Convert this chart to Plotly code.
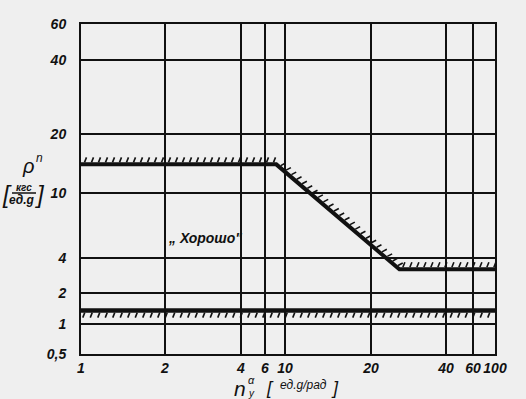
import numpy as np
import plotly.graph_objects as go

# ---- data ----
X_TICKS = [1, 2, 4, 6, 10, 20, 40, 60, 100]
X_TICK_TEXT = ["1", "2", "4", "6", "10", "20", "40", "60", "100"]
Y_TICKS = [0.5, 1, 2, 4, 10, 20, 40, 60]
Y_TICK_TEXT = ["0,5", "1", "2", "4", "10", "20", "40", "60"]

N_UPPER = [1, 8, 26, 100]
P_UPPER = [14, 14, 3.2, 3.2]
N_LOWER = [1, 100]
P_LOWER = [1.35, 1.35]

# ---- hand-drawn nomogram grid scale (grid line positions on the sheet) ----
X_GRID_POS = [81, 165, 241, 265, 285, 371, 446, 473, 495]
Y_GRID_POS = [354, 324, 293, 258, 193, 134, 60, 24]


def sx(v):
    return np.interp(np.log10(v), np.log10(X_TICKS), X_GRID_POS)


def sy(v):
    return np.interp(np.log10(v), np.log10(Y_TICKS), Y_GRID_POS)


def hatch(xs, ys, side, step=7.0, a=2.0, b=7.0, slant=2.0):
    hx, hy = [], []
    carry = step / 2
    for i in range(len(xs) - 1):
        x0, y0, x1, y1 = xs[i], ys[i], xs[i + 1], ys[i + 1]
        dx, dy = x1 - x0, y1 - y0
        L = np.hypot(dx, dy)
        tx, ty = dx / L, dy / L
        nx, ny = ty, -tx
        if np.sign(ny) != side:
            nx, ny = -nx, -ny
        sgn = 1 if side < 0 else -1
        d = carry
        while d < L:
            px_, py_ = x0 + tx * d, y0 + ty * d
            hx += [px_ + nx * a, px_ + nx * b + sgn * tx * slant, None]
            hy += [py_ + ny * a, py_ + ny * b + sgn * ty * slant, None]
            d += step
        carry = d - L
    return hx, hy


ux, uy = list(sx(N_UPPER)), list(sy(P_UPPER))
lx, ly = list(sx(N_LOWER)), list(sy(P_LOWER))
uhx, uhy = hatch(ux, uy, -1)
lhx, lhy = hatch(lx, ly, 1, step=7.5)

INK = "#111111"
BG = "#efefef"
FONT = "Liberation Sans"

fig = go.Figure()
fig.add_trace(go.Scatter(x=uhx, y=uhy, mode="lines", line=dict(color=INK, width=1.6),
                         hoverinfo="skip", showlegend=False))
fig.add_trace(go.Scatter(x=lhx, y=lhy, mode="lines", line=dict(color=INK, width=1.6),
                         hoverinfo="skip", showlegend=False))
fig.add_trace(go.Scatter(x=ux, y=uy, mode="lines", line=dict(color=INK, width=4),
                         showlegend=False))
fig.add_trace(go.Scatter(x=lx, y=ly, mode="lines", line=dict(color=INK, width=4.5),
                         showlegend=False))

tickfont = dict(family=FONT, size=14, color=INK, style="italic", weight="bold")

fig.update_layout(
    width=526, height=399,
    margin=dict(l=81, r=31, t=24, b=45),
    paper_bgcolor=BG, plot_bgcolor=BG,
    xaxis=dict(range=[X_GRID_POS[0], X_GRID_POS[-1]], tickmode="array",
               tickvals=X_GRID_POS, ticktext=X_TICK_TEXT, showgrid=True,
               gridcolor=INK, gridwidth=1.5, zeroline=False, showline=True,
               linecolor=INK, linewidth=2, mirror=True, ticks="", tickfont=tickfont,
               ticklabelstandoff=0),
    yaxis=dict(range=[Y_GRID_POS[0], Y_GRID_POS[-1]], tickmode="array",
               tickvals=Y_GRID_POS, ticktext=Y_TICK_TEXT, showgrid=True,
               gridcolor=INK, gridwidth=1.5, zeroline=False, showline=True,
               linecolor=INK, linewidth=2, mirror=True, ticks="", tickfont=tickfont,
               ticklabelstandoff=10),
)


def txt(x, y, s, size, italic=True, bold=True, xanchor="center"):
    fig.add_annotation(x=x, y=y, xref="paper", yref="paper", text=s, showarrow=False,
                       xanchor=xanchor, yanchor="middle",
                       font=dict(family=FONT, size=size, color=INK,
                                 style="italic" if italic else "normal",
                                 weight="bold" if bold else "normal"))


def px(x):
    return (x - 81) / 414


def py(y):
    return (354 - y) / 330


# annotation inside the plot
txt(px(205), py(238), "„ Хорошо\"", 14)

# y-axis label
txt(px(28), py(166), "ρ", 20, bold=False)
txt(px(39), py(158), "n", 12, bold=False)
txt(px(7), py(194), "[", 24, bold=False)
txt(px(24), py(187), "кгс", 10)
txt(px(22), py(200), "ед.g", 12)
txt(px(40), py(194), "]", 24, bold=False)
fig.add_shape(type="line", xref="paper", yref="paper", x0=px(12), x1=px(36),
              y0=py(193), y1=py(193), line=dict(color=INK, width=1.5))

# x-axis label
txt(px(240), py(388), "n", 21, bold=False)
txt(px(251), py(380), "α", 11, bold=False)
txt(px(251), py(393), "y", 10, bold=False)
txt(px(270), py(388), "[", 18, bold=False)
txt(px(303), py(385), "ед.g/рад", 12, bold=False)
txt(px(335), py(388), "]", 18, bold=False)

fig.write_html("out.html", config={"displayModeBar": False},
               post_script="document.body.style.margin='0';"
                           "document.body.style.background='#efefef';")
